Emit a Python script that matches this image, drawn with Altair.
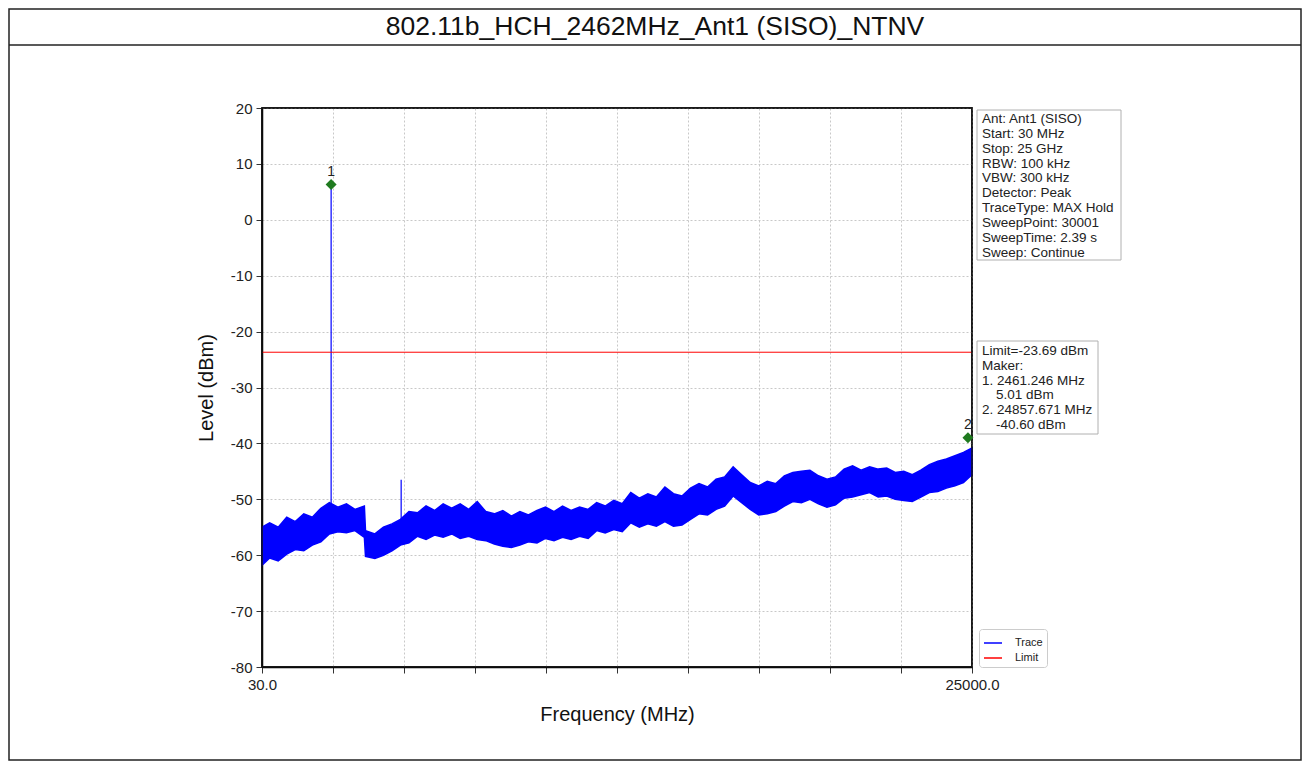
import altair as alt
import pandas as pd

FONT = "Liberation Sans"

title_text = "802.11b_HCH_2462MHz_Ant1 (SISO)_NTNV"

# Trace envelope: frequency (MHz), upper / lower level (dBm)
freq = [30, 300, 600, 900, 1200, 1500, 1800, 2100, 2400, 2700, 3000, 3300, 3630, 3670,
        4000, 4300, 4600, 4900, 5200, 5500, 5800, 6100, 6400, 6700, 7000, 7300, 7600, 7900,
        8200, 8500, 8800, 9100, 9400, 9700, 10000, 10300, 10600, 10900, 11200, 11500, 11800,
        12100, 12400, 12700, 13000, 13300, 13600, 13900, 14200, 14500, 14800, 15100, 15400,
        15700, 16000, 16300, 16600, 16900, 17200, 17500, 17800, 18100, 18400, 18700, 19000,
        19300, 19600, 19900, 20200, 20500, 20800, 21100, 21400, 21700, 22000, 22300, 22600,
        22900, 23200, 23500, 23800, 24100, 24400, 24700, 25000]
upper = [-55.0, -54.2, -55.0, -53.2, -54.0, -52.6, -53.2, -51.6, -50.6, -51.4, -50.8, -51.8, -51.2, -55.6,
         -56.2, -55.0, -54.4, -53.6, -52.2, -52.4, -51.2, -52.0, -50.8, -51.6, -50.8, -51.8, -50.4, -52.2,
         -52.6, -52.0, -53.0, -52.2, -52.8, -52.0, -51.4, -52.2, -51.2, -52.0, -51.4, -51.8, -50.6,
         -51.2, -50.2, -50.8, -48.8, -49.8, -49.0, -49.6, -47.8, -49.0, -49.4, -48.0, -47.2,
         -47.8, -46.4, -46.0, -44.2, -45.6, -47.0, -47.6, -46.8, -47.2, -45.8, -45.2, -45.0,
         -44.8, -45.8, -46.4, -46.0, -44.6, -44.0, -44.8, -44.2, -44.6, -44.4, -45.2, -45.0,
         -45.6, -44.8, -43.8, -43.2, -42.8, -42.2, -41.6, -40.8]
lower = [-61.8, -60.5, -61.0, -59.8, -59.0, -59.2, -58.2, -57.6, -56.2, -55.8, -56.0, -55.6, -56.8, -60.2,
         -60.6, -60.0, -59.2, -58.2, -57.8, -56.6, -57.2, -56.4, -56.8, -56.2, -57.0, -56.6, -57.2, -57.4,
         -58.0, -58.4, -58.6, -58.2, -57.6, -57.8, -57.0, -57.4, -56.8, -57.2, -56.6, -57.0, -55.6,
         -56.0, -55.4, -55.8, -54.2, -55.0, -54.4, -54.8, -54.0, -54.8, -54.6, -53.6, -52.6,
         -52.8, -51.8, -51.2, -49.4, -50.6, -51.8, -52.8, -52.6, -52.2, -51.2, -50.4, -50.6,
         -50.0, -50.8, -51.4, -51.0, -49.8, -49.6, -49.2, -48.8, -49.6, -49.4, -50.0, -50.2,
         -50.4, -49.6, -48.8, -48.6, -48.0, -47.6, -47.0, -45.6]

# Narrow spikes on the trace
spike_freq = [2461.246, 4924.0]
spike_top = [6.3, -46.5]
spike_base = [-52.0, -53.5]

# Limit
limit_level = -23.69

# Markers (drawn positions)
marker_freq = [2461.246, 24857.671]
marker_level = [6.3, -39.0]
marker_label = ["1", "2"]

x_ticks = [30, 2527, 5024, 7521, 10018, 12515, 15012, 17509, 20006, 22503, 25000]
y_ticks = [-80, -70, -60, -50, -40, -30, -20, -10, 0, 10, 20]

info_lines = ["Ant: Ant1 (SISO)", "Start: 30 MHz", "Stop: 25 GHz", "RBW: 100 kHz",
              "VBW: 300 kHz", "Detector: Peak", "TraceType: MAX Hold", "SweepPoint: 30001",
              "SweepTime: 2.39 s", "Sweep: Continue"]
limit_lines_a = ["Limit=-23.69 dBm", "Maker:", "1. 2461.246 MHz"]
limit_lines_b = ["5.01 dBm"]
limit_lines_c = ["2. 24857.671 MHz"]
limit_lines_d = ["-40.60 dBm"]

trace_df = pd.DataFrame({"freq": freq, "upper": upper, "lower": lower, "series": "Trace"})
spike_df = pd.DataFrame({"freq": spike_freq, "top": spike_top, "base": spike_base, "series": "Trace"})
limit_df = pd.DataFrame({"level": [limit_level], "series": ["Limit"]})
marker_df = pd.DataFrame({"freq": marker_freq, "level": marker_level, "label": marker_label})
one = pd.DataFrame({"k": [0]})

x_scale = alt.Scale(domain=[30, 25000], nice=False, zero=False)
y_scale = alt.Scale(domain=[-80, 20], nice=False, zero=False)
stroke_scale = alt.Scale(domain=["Trace", "Limit"], range=["#0000ff", "#ff0000"])

x_axis = alt.Axis(values=x_ticks,
                  labelExpr="(datum.value == 30 || datum.value == 25000) ? format(datum.value, '.1f') : ''",
                  title="Frequency (MHz)", titleFontSize=20, titleFontWeight="normal", titleColor="#111",
                  labelFontSize=15, labelColor="#222", tickSize=6, labelPadding=4, titlePadding=12,
                  labelFlush=False, labelOverlap=False, labelBound=False,
                  grid=True, gridDash=[2, 2], gridColor="#c8c8c8",
                  domainColor="black", domainWidth=1.5, tickColor="#333")
y_axis = alt.Axis(values=y_ticks, labelExpr="datum.value + ''",
                  title="Level (dBm)", titleFontSize=20, titleFontWeight="normal", titleColor="#111",
                  labelFontSize=15, labelColor="#222", tickSize=6, labelPadding=4, titlePadding=14,
                  grid=True, gridDash=[2, 2], gridColor="#c8c8c8",
                  domainColor="black", domainWidth=1.5, tickColor="#333")

stroke_enc = alt.Stroke("series:N", scale=stroke_scale, title=None)

frame = alt.Chart(one).mark_rect(fillOpacity=0, stroke="#222", strokeWidth=1.5, clip=False).encode(
    x=alt.value(-253), x2=alt.value(1039), y=alt.value(-99), y2=alt.value(652))
sep = alt.Chart(one).mark_rule(stroke="#222", strokeWidth=1.5, clip=False).encode(
    x=alt.value(-253), x2=alt.value(1039), y=alt.value(-63))
title = alt.Chart(one).mark_text(fontSize=26.5, font=FONT, align="center", baseline="middle",
                                 color="#111", clip=False).encode(
    x=alt.value(393), y=alt.value(-81), text=alt.value(title_text))

band = alt.Chart(trace_df).mark_area(fill="#0000ff", fillOpacity=1, strokeWidth=1.5).encode(
    x=alt.X("freq:Q", scale=x_scale, axis=x_axis),
    y=alt.Y("upper:Q", scale=y_scale, axis=y_axis),
    y2="lower:Q",
    stroke=stroke_enc)
spikes = alt.Chart(spike_df).mark_rule(strokeWidth=1.2).encode(
    x="freq:Q", y="top:Q", y2="base:Q", stroke=stroke_enc)
limit = alt.Chart(limit_df).mark_rule(strokeWidth=1).encode(y="level:Q", stroke=stroke_enc)

# solid border round the plot area
plot_border = alt.Chart(one).mark_rect(fillOpacity=0, stroke="#111", strokeWidth=1.5, clip=False).encode(
    x=alt.value(0), x2=alt.value(710), y=alt.value(0), y2=alt.value(559))

markers = alt.Chart(marker_df).mark_point(shape="diamond", filled=True, color="#1f7a1f",
                                          size=120, opacity=1, clip=False).encode(
    x="freq:Q", y="level:Q")
marker_text = alt.Chart(marker_df).mark_text(dy=-13, fontSize=14, font=FONT, color="#222",
                                             clip=False).encode(
    x="freq:Q", y="level:Q", text="label:N")

info_box = alt.Chart(one).mark_rect(fill="white", stroke="#b0b0b0", strokeWidth=1, clip=False).encode(
    x=alt.value(715), x2=alt.value(859), y=alt.value(2), y2=alt.value(152))
info_text = alt.Chart(one).mark_text(text=info_lines, align="left", baseline="top", fontSize=13.5,
                                     lineHeight=14.86, font=FONT, color="#222", clip=False).encode(
    x=alt.value(720), y=alt.value(4))
limit_box = alt.Chart(one).mark_rect(fill="white", stroke="#b0b0b0", strokeWidth=1, clip=False).encode(
    x=alt.value(715), x2=alt.value(836), y=alt.value(233), y2=alt.value(326))


def box_text(lines, x, y):
    return alt.Chart(one).mark_text(text=lines, align="left", baseline="top", fontSize=13.5,
                                    lineHeight=14.8, font=FONT, color="#222", clip=False).encode(
        x=alt.value(x), y=alt.value(y))


limit_text_a = box_text(limit_lines_a, 720, 236)
limit_text_b = box_text(limit_lines_b, 734, 236 + 3 * 14.8)
limit_text_c = box_text(limit_lines_c, 720, 236 + 4 * 14.8)
limit_text_d = box_text(limit_lines_d, 734, 236 + 5 * 14.8)

chart = alt.layer(frame, sep, title, band, spikes, limit, plot_border, markers, marker_text,
                  info_box, info_text, limit_box, limit_text_a, limit_text_b,
                  limit_text_c, limit_text_d).properties(
    width=710, height=559,
    padding={"left": 254, "top": 100, "right": 330, "bottom": 99},
    autosize=alt.AutoSizeParams(type="none"),
    background="white",
).configure(font=FONT).configure_view(
    stroke="black", strokeWidth=1.5
).configure_legend(
    orient="none", legendX=717, legendY=521, symbolType="stroke", symbolSize=324,
    symbolStrokeWidth=1.5, labelFontSize=11, labelFont=FONT, labelColor="#222",
    padding=4, fillColor="white", strokeColor="#cccccc", cornerRadius=3, rowPadding=0,
    labelOffset=12
)

chart.save("out.html", embed_options={"renderer": "svg", "actions": False})
